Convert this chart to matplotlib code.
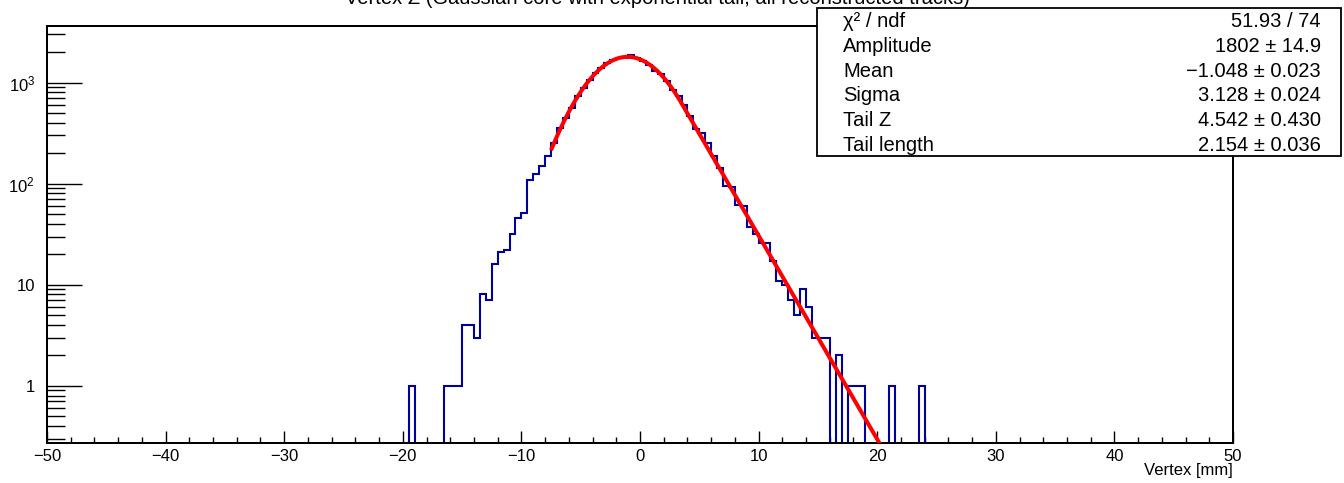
import numpy as np
import matplotlib
matplotlib.use("Agg")
import matplotlib.pyplot as plt
from matplotlib.patches import Rectangle
from matplotlib.ticker import FixedLocator, FixedFormatter, LogLocator, MultipleLocator, NullFormatter

plt.rcParams['font.family'] = ['Liberation Sans', 'DejaVu Sans']
plt.rcParams['mathtext.fontset'] = 'custom'
plt.rcParams['mathtext.rm'] = 'Liberation Sans'
plt.rcParams['mathtext.it'] = 'Liberation Sans:italic'

# ---------------- data ----------------
title = "Vertex Z (Gaussian core with exponential tail, all reconstructed tracks)"
x_label = "Vertex [mm]"
bin_width = 0.5
x_range = (-50.0, 50.0)
first_filled_edge = -19.5
counts = [
    1, 0, 0, 0, 0, 0, 1, 1, 1, 4,            # -19.5 .. -15.0
    4, 3, 8, 7, 16, 21, 22, 32, 46, 51,      # -14.5 .. -10.0
    110, 126, 150, 188, 250, 358, 449, 564, 734, 888,   # -9.5 .. -5.0
    1071, 1249, 1401, 1570, 1692, 1757, 1757, 1893, 1757, 1650,  # -4.5 .. 0.0
    1510, 1297, 1230, 1039, 851, 734, 608, 465, 344, 320,       # 0.5 .. 5.0
    254, 188, 142, 95, 93, 61, 60, 37, 32, 26,                  # 5.5 .. 10.0
    26, 17, 11, 10, 7, 5, 9, 6, 3, 3,                           # 10.5 .. 15.0
    3, 0, 2, 0, 1, 1, 1, 0, 0, 0,                               # 15.5 .. 20.0
    0, 1, 0, 0, 0, 0, 1,                                        # 20.5 .. 23.5
]

fit_amplitude = 1802.0
fit_mean = -1.048
fit_sigma = 3.128
fit_tail_z = 4.542
fit_tail_length = 2.154
fit_range = (-7.5, 25.0)

stat_labels = ["χ² / ndf", "Amplitude", "Mean", "Sigma", "Tail Z", "Tail length"]
stat_values = ["51.93 / 74", "1802 ± 14.9", "\u22121.048 ± 0.023", "3.128 ± 0.024",
               "4.542 ± 0.430", "2.154 ± 0.036"]

y_tick_values = [1, 10, 100, 1000]
y_tick_labels = ["1", "10", r"$\mathregular{10^{2}}$", r"$\mathregular{10^{3}}$"]
y_limits = (0.271, 3640.0)

# ---------------- figure ----------------
W, H = 1344, 483
fig = plt.figure(figsize=(W / 100, H / 100), dpi=100)

def fx(px):
    return px / W

def fy(py):
    return 1 - py / H

ax_l, ax_r, ax_t, ax_b = 47, 1233, 26, 443
ax = fig.add_axes([fx(ax_l), fy(ax_b), fx(ax_r - ax_l), (ax_b - ax_t) / H])

edges = np.arange(x_range[0], x_range[1] + bin_width / 2, bin_width)
full = np.zeros(len(edges) - 1)
start = int(round((first_filled_edge - x_range[0]) / bin_width))
full[start:start + len(counts)] = counts
floor = 1e-3
disp = np.where(full > 0, full, floor)
ax.stairs(disp, edges, baseline=floor, color='#00009c', lw=1.5, zorder=2)

# fit function: gaussian core + exponential tail on the right
xf = np.linspace(fit_range[0], fit_range[1], 1200)
xt = fit_mean + fit_tail_z
core = fit_amplitude * np.exp(-0.5 * ((xf - fit_mean) / fit_sigma) ** 2)
tail = (fit_amplitude * np.exp(-0.5 * (fit_tail_z / fit_sigma) ** 2)
        * np.exp(-(xf - xt) / fit_tail_length))
yf = np.where(xf < xt, core, tail)
ax.plot(xf, yf, color='#ff0000', lw=2.9, zorder=3, solid_capstyle='butt')

ax.set_yscale('log')
ax.set_xlim(*x_range)
ax.set_ylim(*y_limits)

ax.xaxis.set_major_locator(MultipleLocator(10))
ax.xaxis.set_minor_locator(MultipleLocator(2))
ax.yaxis.set_major_locator(FixedLocator(y_tick_values))
ax.yaxis.set_major_formatter(FixedFormatter(y_tick_labels))
ax.yaxis.set_minor_locator(LogLocator(base=10, subs=np.arange(2, 10), numticks=30))
ax.yaxis.set_minor_formatter(NullFormatter())

ax.tick_params(axis='x', which='major', direction='in', length=8.6, width=1.0,
               pad=4.5, labelsize=12, top=False)
ax.tick_params(axis='x', which='minor', direction='in', length=4.3, width=1.0, top=False)
ax.tick_params(axis='y', which='major', direction='in', length=25, width=1.0,
               pad=8.6, labelsize=12, right=False)
ax.tick_params(axis='y', which='minor', direction='in', length=13, width=1.0, right=False)
for s in ax.spines.values():
    s.set_linewidth(1.44)

fig.text(fx(ax_r), fy(471), x_label, ha='right', va='center', fontsize=12)

# title (its upper part lies above the canvas, as in the original)
fig.text(fx(657), fy(4.5), title, ha='center', va='baseline', fontsize=14.5)

# stats box
bx_l, bx_r, bx_t, bx_b = 817, 1341, 8, 156
fig.patches.append(Rectangle((fx(bx_l), fy(bx_b)), fx(bx_r - bx_l), (bx_b - bx_t) / H,
                             transform=fig.transFigure, facecolor='white',
                             edgecolor='black', lw=1.3, zorder=10))
row_base = [27, 52, 77, 101, 126, 151]
for lab, val, yb in zip(stat_labels, stat_values, row_base):
    fig.text(fx(843), fy(yb), lab, ha='left', va='baseline', fontsize=14.5, zorder=11)
    fig.text(fx(1321), fy(yb), val, ha='right', va='baseline', fontsize=14.5, zorder=11)

fig.savefig("out.png", dpi=100)
